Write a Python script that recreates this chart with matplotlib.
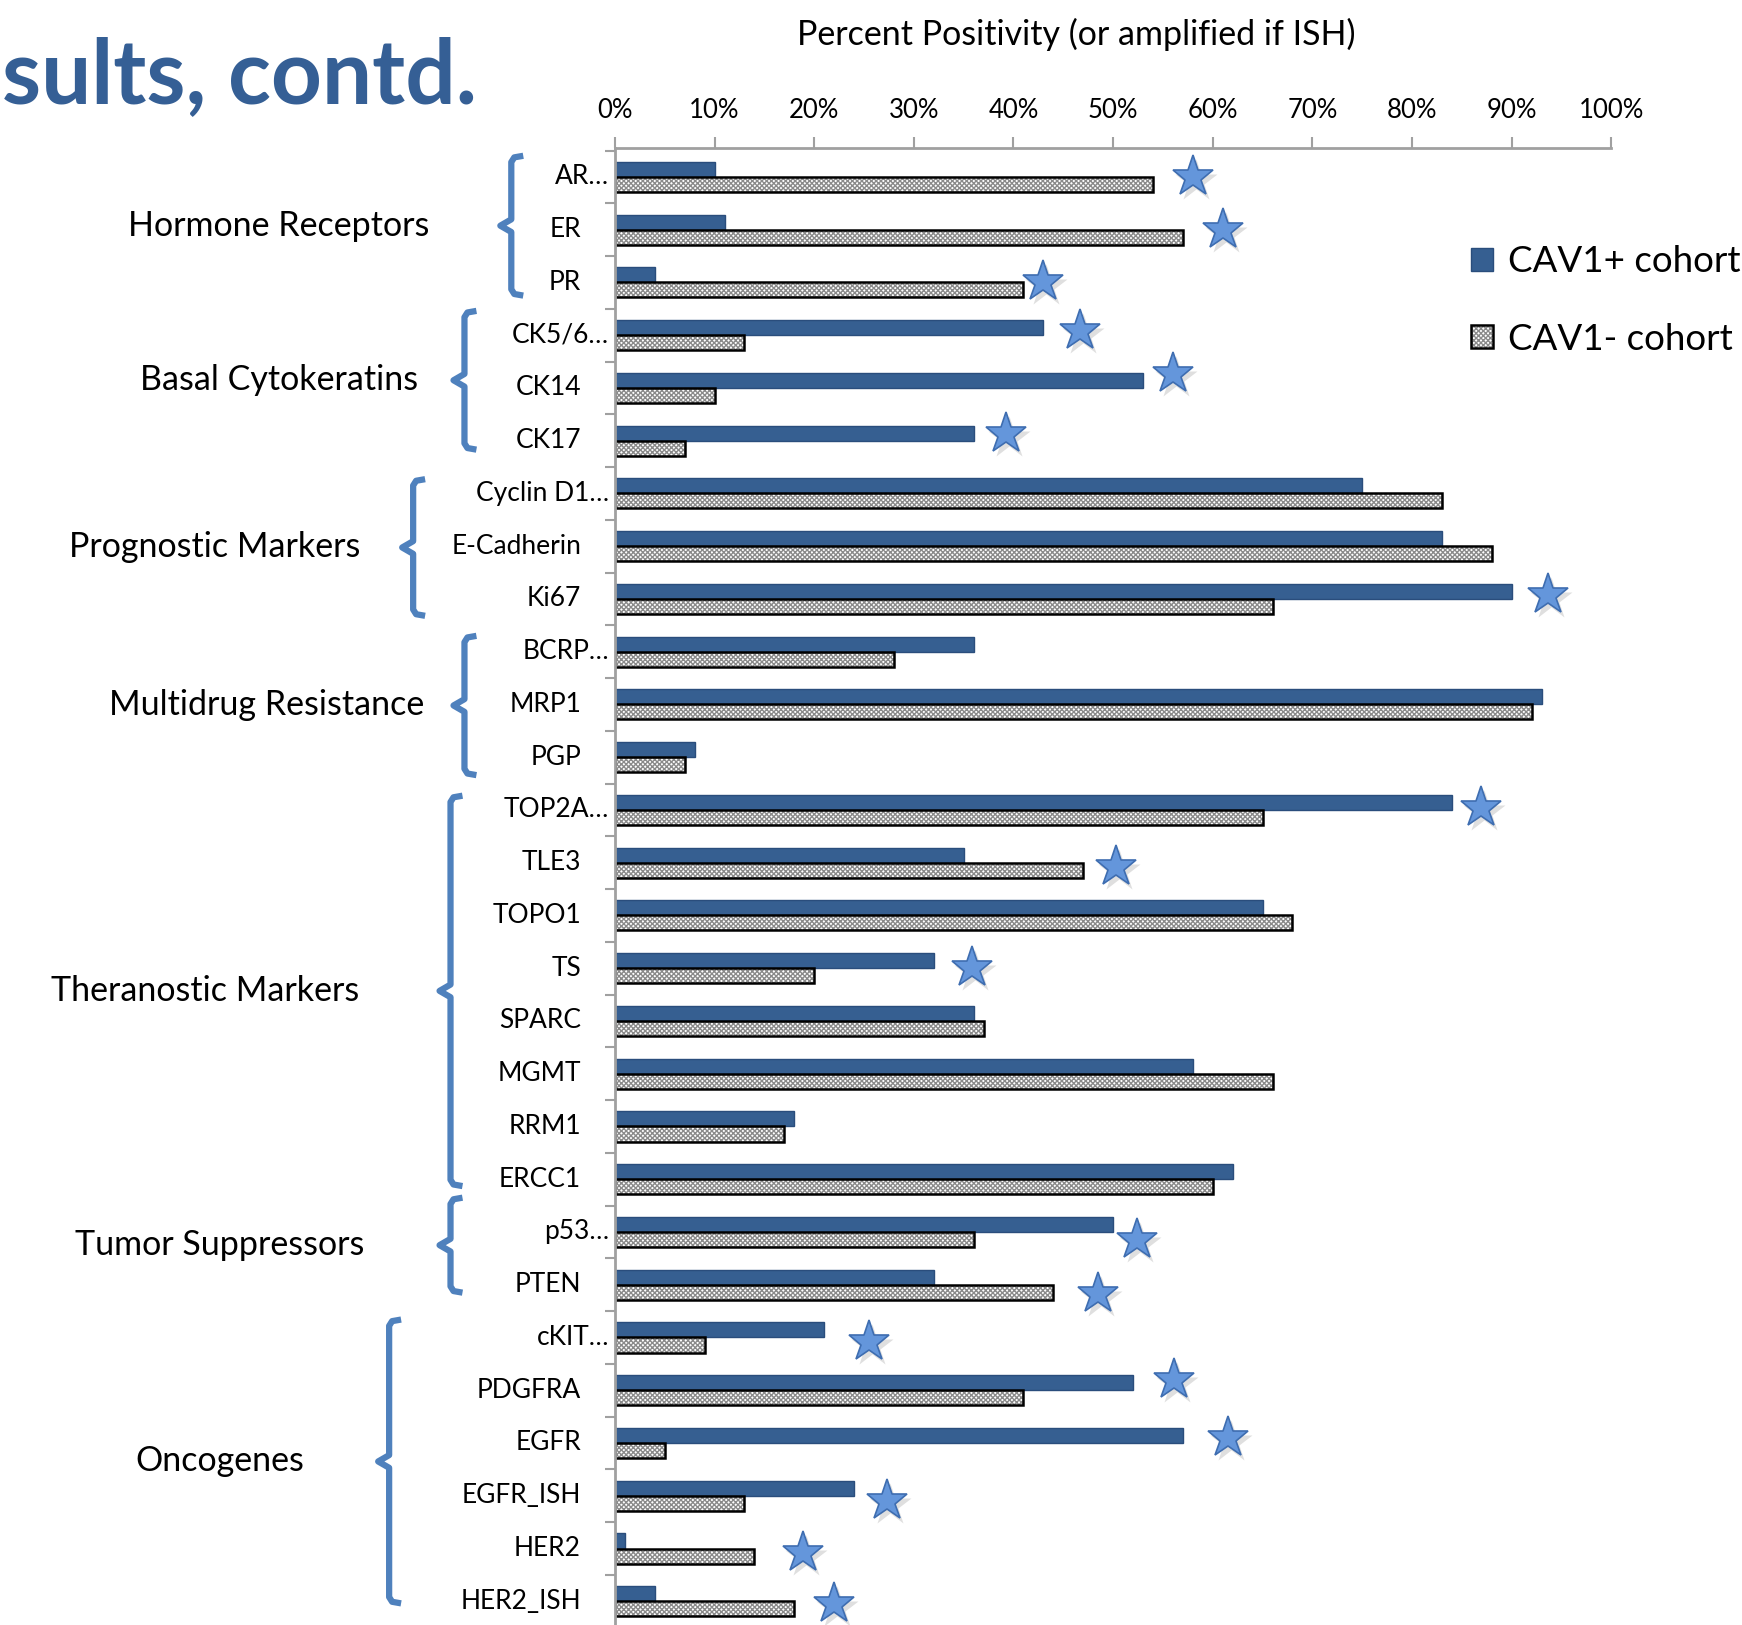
import numpy as np
import matplotlib.pyplot as plt
from matplotlib import transforms

plt.rcParams['font.family'] = ['Lato', 'DejaVu Sans']
plt.rcParams['hatch.linewidth'] = 1.0

# markers, top to bottom
markers = ['AR…', 'ER', 'PR', 'CK5/6…', 'CK14', 'CK17',
           'Cyclin D1…', 'E-Cadherin', 'Ki67', 'BCRP…', 'MRP1', 'PGP',
           'TOP2A…', 'TLE3', 'TOPO1', 'TS', 'SPARC', 'MGMT', 'RRM1', 'ERCC1',
           'p53…', 'PTEN', 'cKIT…', 'PDGFRA', 'EGFR', 'EGFR_ISH', 'HER2', 'HER2_ISH']
cav_pos = [10, 11, 4, 43, 53, 36, 75, 83, 90, 36, 93, 8,
           84, 35, 65, 32, 36, 58, 18, 62, 50, 32, 21, 52, 57, 24, 1, 4]
cav_neg = [54, 57, 41, 13, 10, 7, 83, 88, 66, 28, 92, 7,
           65, 47, 68, 20, 37, 66, 17, 60, 36, 44, 9, 41, 5, 13, 14, 18]
# significance stars (x in %, nan = none) and small hand-placed vertical shifts
star_x = [58, 61, 43, 46.7, 56, 39.2, np.nan, np.nan, 93.6, np.nan, np.nan, np.nan,
          86.9, 50.3, np.nan, 35.8, np.nan, np.nan, np.nan, np.nan,
          52.4, 48.5, 25.5, 56.1, 61.5, 27.3, 18.9, 22.0]
star_dy = [0, 0, 0, -0.08, -0.27, -0.13, 0, 0, -0.08, 0, 0, 0,
           -0.04, 0.08, 0, 0, 0, 0, 0, 0, 0.15, 0.17, 0.08, -0.19, -0.1, 0.1, 0.08, 0.06]

groups = ['Hormone Receptors', 'Basal Cytokeratins', 'Prognostic Markers',
          'Multidrug Resistance', 'Theranostic Markers', 'Tumor Suppressors', 'Oncogenes']
brace_top = [-0.4, 2.54, 5.73, 8.7, 11.73, 19.35, 21.66]
brace_bot = [2.25, 5.17, 8.32, 11.34, 19.13, 21.15, 27.04]
brace_x = [-0.104, -0.151, -0.2025, -0.151, -0.165, -0.165, -0.2266]   # axes fraction
group_x = [0.160, 0.160, 0.123, 0.153, 0.118, 0.126, 0.126]            # figure fraction

xticks = np.arange(0, 101, 10)

BLUE = '#365F91'
BRACE = '#4F81BD'
GREY = '#A0A0A0'

fig = plt.figure(figsize=(17.42, 16.25), dpi=100)
ax = fig.add_axes([0.353, 0.0, 0.572, 0.909])

y = np.arange(len(markers))
h = 0.285
bp = ax.barh(y - h/2, cav_pos, height=h, color=BLUE, edgecolor='#2A4D7C',
             linewidth=1, label='CAV1+ cohort')
# grey checker fill, then a black outline on top
bn_fill = ax.barh(y + h/2, cav_neg, height=h, color='white', edgecolor='#8a8a8a',
                  hatch='xxxxxxx', linewidth=0)
bn = ax.barh(y + h/2, cav_neg, height=h, fill=False, edgecolor='black', linewidth=1.8)

# stars with a soft shadow
sy = y + np.array(star_dy)
shadow = transforms.offset_copy(ax.transData, fig=fig, x=3, y=-4, units='dots')
ax.plot(star_x, sy, ls='none', marker='*', ms=32, color='#808080', alpha=0.25,
        mec='none', transform=shadow)
ax.plot(star_x, sy, ls='none', marker='*', ms=31, color='#6496DB', mec='#3E6DB0', mew=1.2)

ax.set_xlim(0, 100)
ax.set_ylim(27.45, -0.55)
ax.xaxis.tick_top()
ax.set_xticks(xticks)
ax.set_xticklabels(['%d%%' % v for v in xticks], fontsize=18.5)
ax.tick_params(axis='x', direction='out', length=8, width=1.5, color=GREY, pad=10)
ax.set_yticks([])
ax.set_yticks(np.arange(-0.5, 27.5, 1), minor=True)
ax.tick_params(axis='y', which='minor', direction='out', length=7, width=1.5, color=GREY)
for s in ['right', 'bottom']:
    ax.spines[s].set_visible(False)
for s in ['top', 'left']:
    ax.spines[s].set_color(GREY)
    ax.spines[s].set_linewidth(2)

# category labels: truncated ones sit closer to the axis
ytr = transforms.blended_transform_factory(ax.transAxes, ax.transData)
for i, m in enumerate(markers):
    xo = -0.006 if m.endswith('…') else -0.034
    ax.text(xo, i, m, transform=ytr, ha='right', va='center', fontsize=19)

# group braces and labels
for g, t, b, bx, gx in zip(groups, brace_top, brace_bot, brace_x, group_x):
    mid = (t + b) / 2
    s = 0.012
    c = 0.12
    xs = [bx + s, bx + 0.003, bx, bx, bx - 0.011, bx, bx, bx + 0.003, bx + s]
    ys = [t, t + 0.03, t + c, mid - c, mid, mid + c, b - c, b - 0.03, b]
    ax.plot(xs, ys, color=BRACE, lw=4.5, transform=ytr, clip_on=False,
            solid_joinstyle='round', solid_capstyle='butt')
    yfig = fig.transFigure.inverted().transform(ax.transData.transform((0, mid)))[1]
    fig.text(gx, yfig, g, ha='center', va='center', fontsize=24.5)

fig.text(0.618, 0.979, 'Percent Positivity (or amplified if ISH)', ha='center',
         va='center', fontsize=24.5)
fig.text(0.001, 0.9366, 'sults, contd.', ha='left', va='baseline',
         fontsize=64, fontweight='bold', color='#355F95')

fig.legend(handles=[bp, (bn_fill, bn)], labels=['CAV1+ cohort', 'CAV1- cohort'],
           loc='upper left', bbox_to_anchor=(0.836, 0.858),
           frameon=False, fontsize=26.5, handlelength=0.6, handleheight=0.6,
           handletextpad=0.4, labelspacing=1.2, borderaxespad=0)

plt.savefig('out.png', dpi=100)
